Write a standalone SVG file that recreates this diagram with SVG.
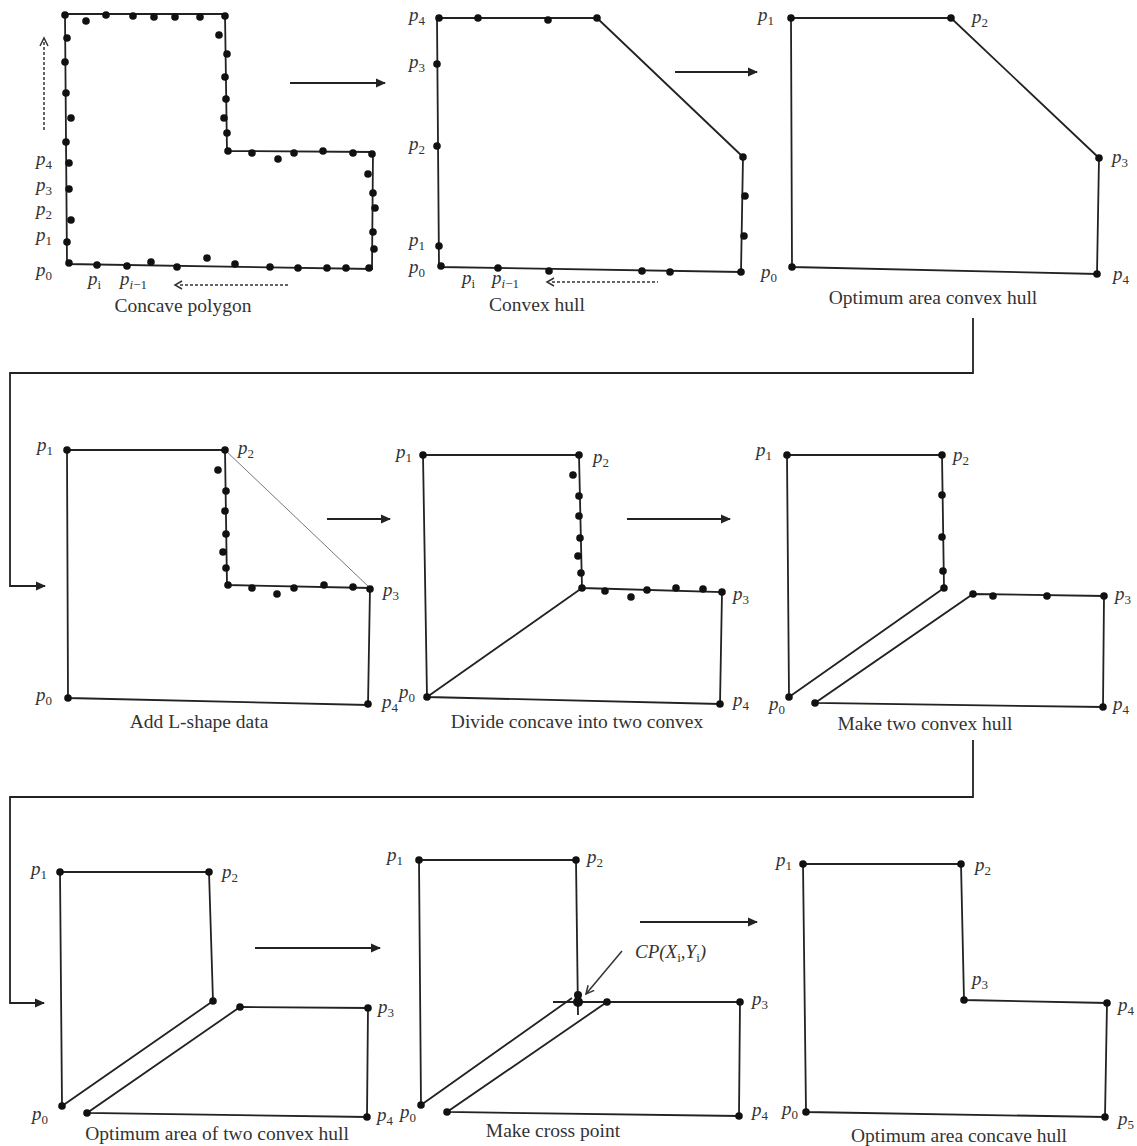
<svg xmlns="http://www.w3.org/2000/svg" width="1137" height="1146" viewBox="0 0 1137 1146">
<defs>
<style>
.ln{fill:none;stroke:#222;stroke-width:1.8;stroke-linejoin:miter}
.thin{fill:none;stroke:#777;stroke-width:1}
.dash{fill:none;stroke:#333;stroke-width:1.5;stroke-dasharray:3 2}
.open{fill:none;stroke:#333;stroke-width:1.5}
.conn{fill:none;stroke:#222;stroke-width:1.8}
.dot circle{fill:#111}
.lbl{font-family:"Liberation Serif","DejaVu Serif",serif;font-style:italic;font-size:19px;fill:#333}
.sub{font-style:normal;font-size:13px}
.cap{font-family:"Liberation Serif","DejaVu Serif",serif;font-size:19.5px;fill:#333;text-anchor:middle}
</style>
<marker id="ah" viewBox="0 0 10 10" refX="9" refY="5" markerWidth="10" markerHeight="10" markerUnits="userSpaceOnUse" orient="auto">
<path d="M0,0.5 L10,5 L0,9.5 Z" fill="#222"/>
</marker>
<marker id="oah" viewBox="0 0 10 10" refX="9" refY="5" markerWidth="10" markerHeight="10" markerUnits="userSpaceOnUse" orient="auto">
<path d="M1,1 L9,5 L1,9" fill="none" stroke="#333" stroke-width="1.5"/>
</marker>
</defs>
<rect width="1137" height="1146" fill="#fff"/>

<g id="panel-concave-polygon">
<polygon class="ln" points="65,14 225,14 227,151 373,152 372,269 67,264"/>
<g class="dot">
<circle cx="65" cy="15" r="3.8"/><circle cx="86" cy="21" r="3.8"/><circle cx="106" cy="15" r="3.8"/><circle cx="133" cy="16" r="3.8"/><circle cx="154" cy="17" r="3.8"/><circle cx="175" cy="17" r="3.8"/><circle cx="200" cy="17" r="3.8"/><circle cx="225" cy="16" r="3.8"/>
<circle cx="219" cy="35" r="3.8"/><circle cx="227" cy="54" r="3.8"/><circle cx="225" cy="77" r="3.8"/><circle cx="226" cy="99" r="3.8"/><circle cx="224" cy="118" r="3.8"/><circle cx="227" cy="133" r="3.8"/><circle cx="228" cy="151" r="3.8"/>
<circle cx="252" cy="153" r="3.8"/><circle cx="278" cy="159" r="3.8"/><circle cx="294" cy="153" r="3.8"/><circle cx="323" cy="151" r="3.8"/><circle cx="353" cy="153" r="3.8"/><circle cx="372" cy="154" r="3.8"/>
<circle cx="368" cy="174" r="3.8"/><circle cx="373" cy="193" r="3.8"/><circle cx="375" cy="208" r="3.8"/><circle cx="373" cy="232" r="3.8"/><circle cx="374" cy="249" r="3.8"/><circle cx="369" cy="268" r="3.8"/>
<circle cx="346" cy="268" r="3.8"/><circle cx="327" cy="268" r="3.8"/><circle cx="298" cy="268" r="3.8"/><circle cx="270" cy="267" r="3.8"/><circle cx="235" cy="264" r="3.8"/><circle cx="207" cy="258" r="3.8"/><circle cx="177" cy="267" r="3.8"/><circle cx="151" cy="262" r="3.8"/><circle cx="127" cy="266" r="3.8"/><circle cx="97" cy="265" r="3.8"/><circle cx="69" cy="263" r="3.8"/>
<circle cx="67" cy="242" r="3.8"/><circle cx="71" cy="220" r="3.8"/><circle cx="69" cy="189" r="3.8"/><circle cx="69" cy="163" r="3.8"/><circle cx="66" cy="142" r="3.8"/><circle cx="71" cy="118" r="3.8"/><circle cx="66" cy="93" r="3.8"/><circle cx="65" cy="62" r="3.8"/><circle cx="67" cy="38" r="3.8"/>
</g>
<line class="dash" x1="44" y1="130" x2="44" y2="42"/>
<polyline class="open" points="40,46 44,38 48,46"/>
<line class="dash" x1="180" y1="285" x2="290" y2="285"/>
<polyline class="open" points="182,281 175,285 182,289"/>
<text class="lbl" x="36" y="165">p<tspan class="sub" dy="4">4</tspan></text>
<text class="lbl" x="36" y="191">p<tspan class="sub" dy="4">3</tspan></text>
<text class="lbl" x="36" y="215">p<tspan class="sub" dy="4">2</tspan></text>
<text class="lbl" x="36" y="241">p<tspan class="sub" dy="4">1</tspan></text>
<text class="lbl" x="36" y="276">p<tspan class="sub" dy="4">0</tspan></text>
<text class="lbl" x="88" y="285">p<tspan class="sub" dy="4" font-style="italic">i</tspan></text>
<text class="lbl" x="120" y="285">p<tspan class="sub" dy="4"><tspan font-style="italic">i</tspan>−1</tspan></text>
<text class="cap" x="183" y="312">Concave polygon</text>
</g>

<g id="panel-convex-hull">
<polygon class="ln" points="437,18 597,18 743,157 741,272 439,267"/>
<g class="dot">
<circle cx="439" cy="18" r="3.8"/><circle cx="478" cy="18" r="3.8"/><circle cx="548" cy="20" r="3.8"/><circle cx="597" cy="18" r="3.8"/><circle cx="743" cy="157" r="3.8"/><circle cx="745" cy="196" r="3.8"/><circle cx="744" cy="236" r="3.8"/><circle cx="741" cy="272" r="3.8"/><circle cx="670" cy="272" r="3.8"/><circle cx="642" cy="271" r="3.8"/><circle cx="549" cy="271" r="3.8"/><circle cx="498" cy="268" r="3.8"/><circle cx="441" cy="266" r="3.8"/><circle cx="439" cy="246" r="3.8"/><circle cx="437" cy="146" r="3.8"/><circle cx="437" cy="64" r="3.8"/>
</g>
<line class="dash" x1="552" y1="282" x2="658" y2="282"/>
<polyline class="open" points="554,278 547,282 554,286"/>
<text class="lbl" x="409" y="21">p<tspan class="sub" dy="4">4</tspan></text>
<text class="lbl" x="409" y="68">p<tspan class="sub" dy="4">3</tspan></text>
<text class="lbl" x="409" y="150">p<tspan class="sub" dy="4">2</tspan></text>
<text class="lbl" x="409" y="246">p<tspan class="sub" dy="4">1</tspan></text>
<text class="lbl" x="409" y="273">p<tspan class="sub" dy="4">0</tspan></text>
<text class="lbl" x="462" y="284">p<tspan class="sub" dy="4" font-style="italic">i</tspan></text>
<text class="lbl" x="492" y="284">p<tspan class="sub" dy="4"><tspan font-style="italic">i</tspan>−1</tspan></text>
<text class="cap" x="537" y="311">Convex hull</text>
</g>

<g id="panel-optimum-convex">
<polygon class="ln" points="791,18 951,18 1099,158 1097,274 792,267"/>
<g class="dot">
<circle cx="791" cy="18" r="3.8"/><circle cx="951" cy="18" r="3.8"/><circle cx="1099" cy="158" r="3.8"/><circle cx="1097" cy="274" r="3.8"/><circle cx="792" cy="267" r="3.8"/>
</g>
<text class="lbl" x="758" y="21">p<tspan class="sub" dy="4">1</tspan></text>
<text class="lbl" x="972" y="23">p<tspan class="sub" dy="4">2</tspan></text>
<text class="lbl" x="1112" y="163">p<tspan class="sub" dy="4">3</tspan></text>
<text class="lbl" x="1113" y="280">p<tspan class="sub" dy="4">4</tspan></text>
<text class="lbl" x="761" y="278">p<tspan class="sub" dy="4">0</tspan></text>
<text class="cap" x="933" y="304">Optimum area convex hull</text>
</g>

<g id="panel-add-l-shape">
<polygon class="ln" points="67,450 225,450 227,585 370,588 368,705 68,698"/>
<line class="thin" x1="225" y1="450" x2="370" y2="588"/>
<g class="dot">
<circle cx="67" cy="450" r="3.8"/><circle cx="225" cy="450" r="3.8"/><circle cx="218" cy="470" r="3.8"/><circle cx="226" cy="491" r="3.8"/><circle cx="225" cy="511" r="3.8"/><circle cx="226" cy="534" r="3.8"/><circle cx="223" cy="552" r="3.8"/><circle cx="226" cy="568" r="3.8"/><circle cx="228" cy="585" r="3.8"/><circle cx="252" cy="588" r="3.8"/><circle cx="277" cy="594" r="3.8"/><circle cx="294" cy="588" r="3.8"/><circle cx="324" cy="585" r="3.8"/><circle cx="353" cy="587" r="3.8"/><circle cx="370" cy="589" r="3.8"/><circle cx="368" cy="704" r="3.8"/><circle cx="68" cy="698" r="3.8"/>
</g>
<text class="lbl" x="37" y="451">p<tspan class="sub" dy="4">1</tspan></text>
<text class="lbl" x="238" y="454">p<tspan class="sub" dy="4">2</tspan></text>
<text class="lbl" x="383" y="596">p<tspan class="sub" dy="4">3</tspan></text>
<text class="lbl" x="382" y="708">p<tspan class="sub" dy="4">4</tspan></text>
<text class="lbl" x="36" y="701">p<tspan class="sub" dy="4">0</tspan></text>
<text class="cap" x="199" y="728">Add L-shape data</text>
</g>

<g id="panel-divide">
<polygon class="ln" points="423,455 579,455 582,588 722,592 720,704 427,697"/>
<line class="ln" x1="427" y1="697" x2="582" y2="588"/>
<g class="dot">
<circle cx="423" cy="455" r="3.8"/><circle cx="579" cy="455" r="3.8"/><circle cx="573" cy="475" r="3.8"/><circle cx="579" cy="496" r="3.8"/><circle cx="579" cy="516" r="3.8"/><circle cx="580" cy="538" r="3.8"/><circle cx="578" cy="556" r="3.8"/><circle cx="581" cy="573" r="3.8"/><circle cx="582" cy="588" r="3.8"/><circle cx="605" cy="591" r="3.8"/><circle cx="631" cy="597" r="3.8"/><circle cx="647" cy="590" r="3.8"/><circle cx="676" cy="588" r="3.8"/><circle cx="703" cy="589" r="3.8"/><circle cx="722" cy="592" r="3.8"/><circle cx="720" cy="704" r="3.8"/><circle cx="427" cy="697" r="3.8"/>
</g>
<text class="lbl" x="396" y="458">p<tspan class="sub" dy="4">1</tspan></text>
<text class="lbl" x="593" y="463">p<tspan class="sub" dy="4">2</tspan></text>
<text class="lbl" x="733" y="600">p<tspan class="sub" dy="4">3</tspan></text>
<text class="lbl" x="733" y="706">p<tspan class="sub" dy="4">4</tspan></text>
<text class="lbl" x="399" y="698">p<tspan class="sub" dy="4">0</tspan></text>
<text class="cap" x="577" y="728">Divide concave into two convex</text>
</g>

<g id="panel-two-convex">
<polygon class="ln" points="787,455 942,455 944,588 789,697"/>
<polygon class="ln" points="973,594 1104,596 1103,707 815,703"/>
<g class="dot">
<circle cx="787" cy="455" r="3.8"/><circle cx="942" cy="455" r="3.8"/><circle cx="942" cy="495" r="3.8"/><circle cx="942" cy="537" r="3.8"/><circle cx="943" cy="571" r="3.8"/><circle cx="944" cy="588" r="3.8"/><circle cx="789" cy="697" r="3.8"/><circle cx="973" cy="594" r="3.8"/><circle cx="993" cy="596" r="3.8"/><circle cx="1047" cy="596" r="3.8"/><circle cx="1104" cy="596" r="3.8"/><circle cx="1103" cy="707" r="3.8"/><circle cx="815" cy="703" r="3.8"/>
</g>
<text class="lbl" x="756" y="456">p<tspan class="sub" dy="4">1</tspan></text>
<text class="lbl" x="953" y="461">p<tspan class="sub" dy="4">2</tspan></text>
<text class="lbl" x="1115" y="600">p<tspan class="sub" dy="4">3</tspan></text>
<text class="lbl" x="1113" y="710">p<tspan class="sub" dy="4">4</tspan></text>
<text class="lbl" x="769" y="710">p<tspan class="sub" dy="4">0</tspan></text>
<text class="cap" x="925" y="730">Make two convex hull</text>
</g>

<g id="panel-optimum-two-convex">
<polygon class="ln" points="60,872 209,872 213,1001 62,1106"/>
<polygon class="ln" points="240,1007 368,1008 367,1117 87,1113"/>
<g class="dot">
<circle cx="60" cy="872" r="3.8"/><circle cx="209" cy="872" r="3.8"/><circle cx="213" cy="1001" r="3.8"/><circle cx="62" cy="1106" r="3.8"/><circle cx="240" cy="1007" r="3.8"/><circle cx="368" cy="1008" r="3.8"/><circle cx="367" cy="1117" r="3.8"/><circle cx="87" cy="1113" r="3.8"/>
</g>
<text class="lbl" x="31" y="875">p<tspan class="sub" dy="4">1</tspan></text>
<text class="lbl" x="222" y="878">p<tspan class="sub" dy="4">2</tspan></text>
<text class="lbl" x="378" y="1013">p<tspan class="sub" dy="4">3</tspan></text>
<text class="lbl" x="377" y="1121">p<tspan class="sub" dy="4">4</tspan></text>
<text class="lbl" x="32" y="1120">p<tspan class="sub" dy="4">0</tspan></text>
<text class="cap" x="217" y="1140">Optimum area of two convex hull</text>
</g>

<g id="panel-cross-point">
<polyline class="ln" points="576,860 419,860 421,1105 572,998"/>
<line class="ln" x1="576" y1="860" x2="578" y2="1015"/>
<line class="ln" x1="553" y1="1002" x2="607" y2="1002"/>
<polygon class="ln" points="607,1002 740,1002 739,1116 447,1112"/>
<g class="dot">
<circle cx="419" cy="860" r="3.8"/><circle cx="576" cy="860" r="3.8"/><circle cx="578" cy="995" r="4"/><circle cx="578" cy="1002" r="5"/><circle cx="607" cy="1002" r="3.8"/><circle cx="740" cy="1002" r="3.8"/><circle cx="739" cy="1116" r="3.8"/><circle cx="447" cy="1112" r="3.8"/><circle cx="421" cy="1105" r="3.8"/>
</g>
<line class="open" x1="622" y1="951" x2="586" y2="994" marker-end="url(#oah)"/>
<text class="lbl" x="635" y="958">CP(X<tspan class="sub" dy="4" font-style="italic">i</tspan><tspan dy="-4">,Y</tspan><tspan class="sub" dy="4" font-style="italic">i</tspan><tspan dy="-4">)</tspan></text>
<text class="lbl" x="387" y="861">p<tspan class="sub" dy="4">1</tspan></text>
<text class="lbl" x="587" y="863">p<tspan class="sub" dy="4">2</tspan></text>
<text class="lbl" x="752" y="1005">p<tspan class="sub" dy="4">3</tspan></text>
<text class="lbl" x="752" y="1116">p<tspan class="sub" dy="4">4</tspan></text>
<text class="lbl" x="400" y="1118">p<tspan class="sub" dy="4">0</tspan></text>
<text class="cap" x="553" y="1137">Make cross point</text>
</g>

<g id="panel-optimum-concave">
<polygon class="ln" points="803,864 961,864 964,1000 1107,1003 1105,1117 806,1112"/>
<g class="dot">
<circle cx="803" cy="864" r="3.8"/><circle cx="961" cy="864" r="3.8"/><circle cx="964" cy="1000" r="3.8"/><circle cx="1107" cy="1003" r="3.8"/><circle cx="1105" cy="1117" r="3.8"/><circle cx="806" cy="1112" r="3.8"/>
</g>
<text class="lbl" x="776" y="866">p<tspan class="sub" dy="4">1</tspan></text>
<text class="lbl" x="975" y="871">p<tspan class="sub" dy="4">2</tspan></text>
<text class="lbl" x="972" y="985">p<tspan class="sub" dy="4">3</tspan></text>
<text class="lbl" x="1118" y="1011">p<tspan class="sub" dy="4">4</tspan></text>
<text class="lbl" x="1118" y="1125">p<tspan class="sub" dy="4">5</tspan></text>
<text class="lbl" x="782" y="1115">p<tspan class="sub" dy="4">0</tspan></text>
<text class="cap" x="959" y="1142">Optimum area concave hull</text>
</g>

<g id="connectors">
<line class="conn" x1="290" y1="83" x2="385" y2="83" marker-end="url(#ah)"/>
<line class="conn" x1="675" y1="72" x2="757" y2="72" marker-end="url(#ah)"/>
<polyline class="conn" points="973,318 973,373 10,373 10,586 45,586" marker-end="url(#ah)"/>
<line class="conn" x1="327" y1="519" x2="390" y2="519" marker-end="url(#ah)"/>
<line class="conn" x1="627" y1="519" x2="730" y2="519" marker-end="url(#ah)"/>
<polyline class="conn" points="973,740 973,797 10,797 10,1003 44,1003" marker-end="url(#ah)"/>
<line class="conn" x1="255" y1="948" x2="380" y2="948" marker-end="url(#ah)"/>
<line class="conn" x1="640" y1="922" x2="757" y2="922" marker-end="url(#ah)"/>
</g>
</svg>
